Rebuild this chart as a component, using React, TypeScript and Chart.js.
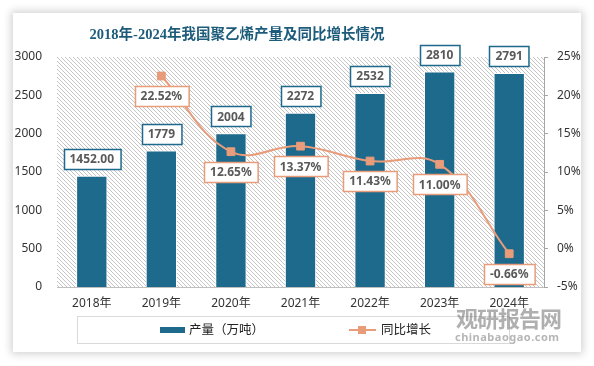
import React, { useEffect, useRef } from "react";
import { Chart, registerables } from "chart.js";

Chart.register(...registerables);

const categories = ["2018年", "2019年", "2020年", "2021年", "2022年", "2023年", "2024年"];
const production = [1452, 1779, 2004, 2272, 2532, 2810, 2791];
const productionLabels = ["1452.00", "1779", "2004", "2272", "2532", "2810", "2791"];
const growth: (number | null)[] = [null, 22.52, 12.65, 13.37, 11.43, 11.0, -0.66];
const leftTicks = { min: 0, max: 3000, step: 500 };
const rightTicks = { min: -5, max: 25, step: 5 };

const BAR_COLOR = "#1d6a8c";
const LINE_COLOR = "#e89c7a";
const FONT = "'Noto Sans', 'Noto Sans CJK SC', sans-serif";

function makeHatch(): CanvasPattern | string {
  const c = document.createElement("canvas");
  c.width = 4;
  c.height = 4;
  const g = c.getContext("2d");
  if (!g) return "#eeeeee";
  g.fillStyle = "#ffffff";
  g.fillRect(0, 0, 4, 4);
  g.fillStyle = "#c4c4c4";
  for (let i = 0; i < 4; i++) g.fillRect(i, i, 1, 1);
  const p = g.createPattern(c, "repeat");
  return p || "#eeeeee";
}

function drawBox(ctx: CanvasRenderingContext2D, text: string, cx: number, cy: number, border: string) {
  ctx.save();
  ctx.font = `bold 12px ${FONT}`;
  const w = ctx.measureText(text).width + 12;
  const h = 20;
  const x = Math.round(cx - w / 2) + 0.5;
  const y = Math.round(cy - h / 2) + 0.5;
  ctx.fillStyle = "#ffffff";
  ctx.fillRect(x, y, w, h);
  ctx.lineWidth = 1.5;
  ctx.strokeStyle = border;
  ctx.strokeRect(x, y, w, h);
  ctx.fillStyle = "#595959";
  ctx.textAlign = "center";
  ctx.textBaseline = "middle";
  ctx.fillText(text, cx, cy + 1);
  ctx.restore();
}

const bgPlugin = {
  id: "hatchBg",
  beforeDraw(chart: any) {
    const { ctx, chartArea } = chart;
    if (!chartArea) return;
    ctx.save();
    ctx.fillStyle = makeHatch();
    ctx.fillRect(chartArea.left, chartArea.top, chartArea.right - chartArea.left, chartArea.bottom - chartArea.top);
    ctx.restore();
  },
};

const labelPlugin = {
  id: "boxLabels",
  afterDatasetsDraw(chart: any) {
    const ctx = chart.ctx;
    const barMeta = chart.getDatasetMeta(0);
    barMeta.data.forEach((el: any, i: number) => {
      drawBox(ctx, productionLabels[i], el.x, el.y - 17, BAR_COLOR);
    });
    const lineMeta = chart.getDatasetMeta(1);
    lineMeta.data.forEach((el: any, i: number) => {
      const v = growth[i];
      if (v === null || v === undefined) return;
      drawBox(ctx, v.toFixed(2) + "%", el.x, el.y + 20, LINE_COLOR);
    });
  },
};

export default function App() {
  const ref = useRef<HTMLCanvasElement>(null);

  useEffect(() => {
    document.body.style.margin = "0";
    if (!ref.current) return;
    const chart = new Chart(ref.current, {
      type: "bar",
      data: {
        labels: categories,
        datasets: [
          {
            type: "bar",
            label: "产量（万吨）",
            data: production,
            backgroundColor: BAR_COLOR,
            borderColor: "#ffffff",
            borderWidth: 1,
            categoryPercentage: 1,
            barPercentage: 0.45,
            yAxisID: "y",
            order: 2,
          } as any,
          {
            type: "line",
            label: "同比增长",
            data: growth,
            borderColor: LINE_COLOR,
            backgroundColor: LINE_COLOR,
            borderWidth: 2,
            pointStyle: "rect",
            pointRadius: 5.5,
            pointBorderWidth: 1,
            pointBackgroundColor: LINE_COLOR,
            pointBorderColor: LINE_COLOR,
            tension: 0.4,
            yAxisID: "y1",
            order: 1,
          } as any,
        ],
      },
      options: {
        responsive: false,
        animation: false,
        layout: { padding: { top: 57, left: 0, right: 0, bottom: 0 } },
        plugins: {
          legend: { display: false },
          title: { display: false },
          tooltip: { enabled: false },
        },
        scales: {
          x: {
            grid: { display: false, drawTicks: false },
            border: { display: true, color: "#bfbfbf", width: 1 },
            ticks: { color: "#333333", font: { family: FONT, size: 12 }, padding: 9 },
            afterFit: (s: any) => {
              s.height = 79;
            },
          },
          y: {
            position: "left",
            min: leftTicks.min,
            max: leftTicks.max,
            grid: { display: false, drawTicks: false },
            border: { display: false },
            ticks: {
              stepSize: leftTicks.step,
              color: "#333333",
              font: { family: FONT, size: 12 },
              padding: 15,
              callback: (v: any) => String(v),
            },
            afterFit: (s: any) => {
              s.width = 57;
            },
          },
          y1: {
            position: "right",
            min: rightTicks.min,
            max: rightTicks.max,
            grid: { display: true, drawOnChartArea: false, drawTicks: true, tickLength: 4, color: "#a6a6a6" },
            border: { display: true, color: "#a6a6a6", width: 1 },
            ticks: {
              stepSize: rightTicks.step,
              color: "#333333",
              font: { family: FONT, size: 12 },
              padding: 9,
              callback: (v: any) => v + "%",
            },
            afterFit: (s: any) => {
              s.width = 50;
            },
          },
        },
      } as any,
      plugins: [bgPlugin, labelPlugin],
    });
    return () => chart.destroy();
  }, []);

  return (
    <div style={{ position: "relative", width: 594, height: 366, background: "#ffffff", overflow: "hidden" }}>
      <div
        style={{
          position: "absolute",
          left: 13,
          top: 13,
          width: 568,
          height: 339,
          background: "#ffffff",
          boxShadow: "0 0 8px 2px rgba(0,0,0,0.18)",
        }}
      />
      <canvas ref={ref} width={594} height={366} style={{ position: "absolute", left: 0, top: 0, width: 594, height: 366 }} />
      <div
        style={{
          position: "absolute",
          left: 0,
          width: 474,
          top: 24,
          textAlign: "center",
          font: "bold 14.5px 'Liberation Serif', 'Noto Sans CJK SC', serif",
          color: "#1d5b7b",
          lineHeight: "20px",
          whiteSpace: "nowrap",
        }}
      >
        2018年-2024年我国聚乙烯产量及同比增长情况
      </div>
      <div
        style={{
          position: "absolute",
          left: 77,
          top: 316,
          width: 433,
          height: 28,
          border: "1px solid #d9d9d9",
          boxSizing: "border-box",
        }}
      />
      <div style={{ position: "absolute", left: 160, top: 327, width: 25, height: 6, background: BAR_COLOR }} />
      <div
        style={{
          position: "absolute",
          left: 189,
          top: 321,
          font: `12.5px ${FONT}`,
          color: "#222222",
          lineHeight: "18px",
          whiteSpace: "nowrap",
        }}
      >
        产量（万吨）
      </div>
      <div style={{ position: "absolute", left: 349, top: 329, width: 27, height: 2, background: LINE_COLOR }} />
      <div style={{ position: "absolute", left: 358, top: 326, width: 8, height: 8, background: LINE_COLOR }} />
      <div
        style={{
          position: "absolute",
          left: 381,
          top: 321,
          font: `12.5px ${FONT}`,
          color: "#222222",
          lineHeight: "18px",
          whiteSpace: "nowrap",
        }}
      >
        同比增长
      </div>
      <div
        style={{
          position: "absolute",
          left: 456,
          top: 304,
          font: "bold 22px 'Noto Sans CJK SC', sans-serif",
          color: "rgba(110,110,110,0.55)",
          lineHeight: "26px",
          whiteSpace: "nowrap",
          letterSpacing: "-1px",
        }}
      >
        观研报告网
      </div>
      <div
        style={{
          position: "absolute",
          left: 455,
          top: 330,
          font: "bold 11px 'Noto Sans', sans-serif",
          color: "rgba(110,110,110,0.5)",
          lineHeight: "14px",
          whiteSpace: "nowrap",
          letterSpacing: "0.5px",
        }}
      >
        chinabaogao.com
      </div>
    </div>
  );
}
